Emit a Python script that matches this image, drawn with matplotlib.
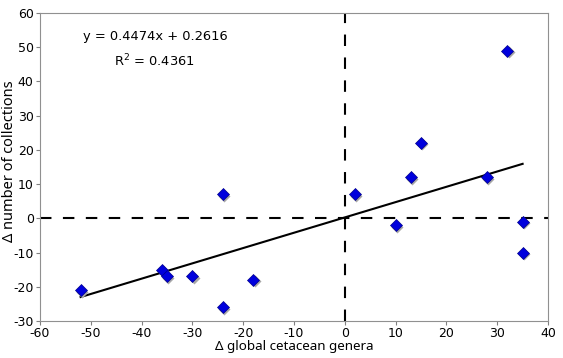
import matplotlib
matplotlib.use("Agg")
import matplotlib.pyplot as plt
import matplotlib.transforms as mtransforms
import numpy as np

plt.rcParams['font.family'] = ['DejaVu Sans']
plt.rcParams['axes.unicode_minus'] = False

genera = [-52, -36, -35, -30, -24, -24, -18, 2, 10, 13, 15, 28, 32, 35, 35]
collections = [-21, -15, -17, -17, -26, 7, -18, 7, -2, 12, 22, 12, 49, -1, -10]
slope = 0.4474
intercept = 0.2616
r2 = 0.4361
xticks = list(range(-60, 41, 10))
yticks = list(range(-30, 61, 10))

fig = plt.figure(figsize=(5.63, 3.58), dpi=100)
ax = fig.add_axes([0.071, 0.1034, 0.9024, 0.8603])
ax.set_xlim(-60, 40)
ax.set_ylim(-30, 60)

ax.axhline(0, color='black', lw=1.5, dashes=(5.5, 5.5), zorder=1)
ax.axvline(0, color='black', lw=1.5, dashes=(5.5, 5.5), zorder=1)

xs = np.array([min(genera), max(genera)])
ax.plot(xs, slope * xs + intercept, color='black', lw=1.5, zorder=2)

shadow = mtransforms.offset_copy(ax.transData, fig=fig, x=1.0, y=-1.0, units='points')
ax.plot(genera, collections, 'D', ms=6, color='#a8a8a8', mec='none', transform=shadow, zorder=3)
ax.plot(genera, collections, 'D', ms=6, color='#0000dd', mec='#00008b', mew=0.5, zorder=4)

ax.set_xticks(xticks)
ax.set_yticks(yticks)
ax.tick_params(direction='out', length=3, width=0.8, color='#808080', labelsize=9, pad=1.5)
for s in ax.spines.values():
    s.set_color('#909090')
    s.set_linewidth(0.8)

ax.set_xlabel('Δ global cetacean genera', fontsize=9.6, family=['Noto Sans', 'DejaVu Sans'], labelpad=0)
fig.text(0.016, 0.549, 'Δ number of collections', fontsize=10.5, family=['Noto Sans', 'DejaVu Sans'],
         rotation=90, ha='center', va='center')

ax.text(-37.2, 53.1, f'y = {slope}x + {intercept}', fontsize=9.4, va='center', ha='center')
ax.text(-37.4, 46.1, f'R$^2$ = {r2}', fontsize=9.4, va='center', ha='center')

fig.savefig('out.png', dpi=100)
